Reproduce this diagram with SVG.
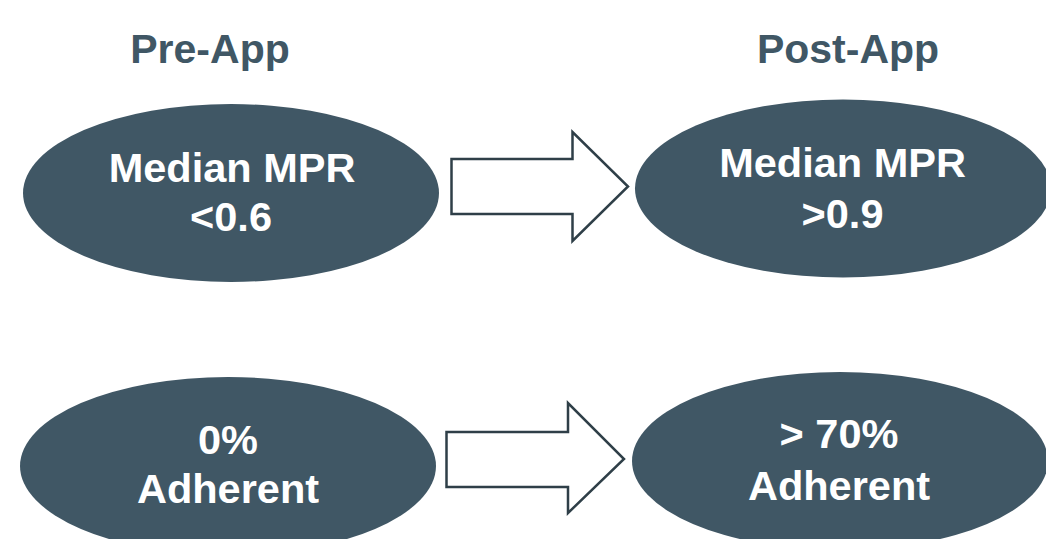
<svg xmlns="http://www.w3.org/2000/svg" width="1046" height="539" viewBox="0 0 1046 539">
<style>
.bg{fill:#ffffff}
.node{fill:#405765}
.title{font-family:"Liberation Sans",Arial,sans-serif;font-weight:bold;font-size:41px;fill:#405765;text-anchor:middle}
.label{font-family:"Liberation Sans",Arial,sans-serif;font-weight:bold;font-size:41.5px;fill:#ffffff;text-anchor:middle}
.arrow{fill:#ffffff;stroke:#2f3f48;stroke-width:2.5;stroke-linejoin:miter}
</style>
<rect class="bg" x="0" y="0" width="1046" height="539"/>
<g id="title-pre"><text class="title" x="210" y="63">Pre-App</text></g>
<g id="title-post"><text class="title" x="848" y="63">Post-App</text></g>
<g id="node-pre-mpr">
<ellipse class="node" cx="231" cy="193" rx="208" ry="89"/>
<text class="label" x="232" y="182">Median MPR</text>
<text class="label" x="231" y="231">&lt;0.6</text>
</g>
<g id="node-post-mpr">
<ellipse class="node" cx="843" cy="188.5" rx="208" ry="89"/>
<text class="label" x="842.5" y="177">Median MPR</text>
<text class="label" x="842.5" y="228">&gt;0.9</text>
</g>
<g id="node-pre-adh">
<ellipse class="node" cx="228" cy="466" rx="208" ry="89"/>
<text class="label" x="228" y="454">0%</text>
<text class="label" x="228" y="503">Adherent</text>
</g>
<g id="node-post-adh">
<ellipse class="node" cx="840" cy="461" rx="208" ry="89"/>
<text class="label" x="839" y="448">&gt; 70%</text>
<text class="label" x="839" y="500">Adherent</text>
</g>
<g id="connectors">
<path class="arrow" d="M451.5 159 H572.5 V132 L628 186.5 L572.5 241 V214 H451.5 Z"/>
<path class="arrow" d="M446.5 432 H568 V403 L624 459 L568 513 V487 H446.5 Z"/>
</g>
</svg>
